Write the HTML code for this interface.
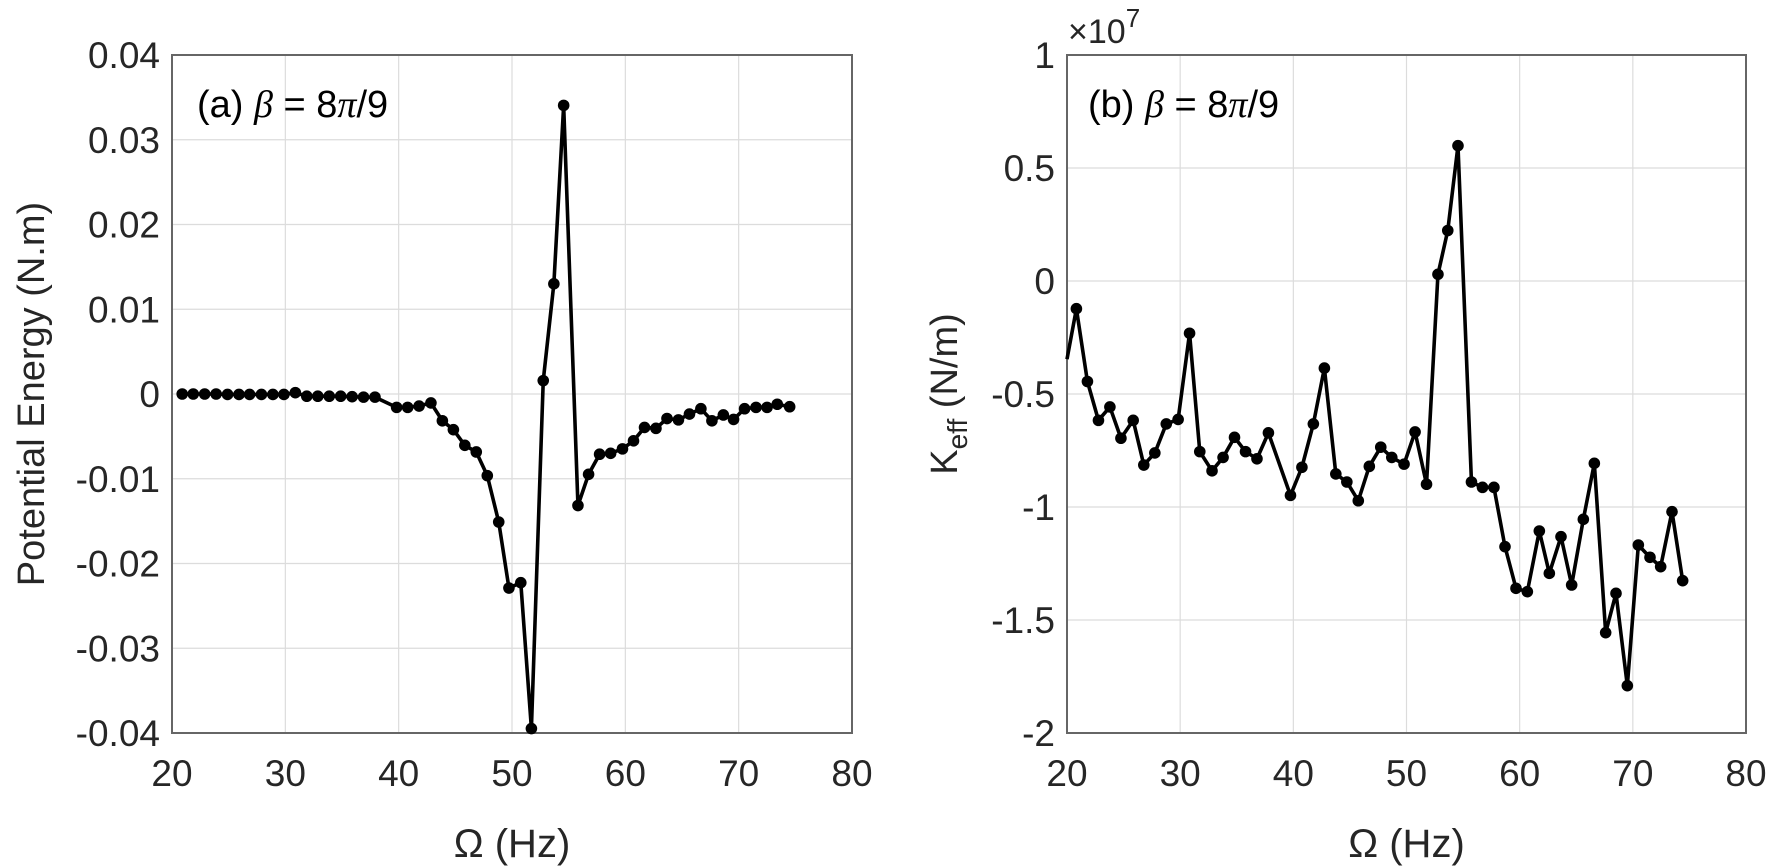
<!DOCTYPE html>
<html><head><meta charset="utf-8"><style>
html,body{margin:0;padding:0;background:#fff;}
svg{display:block;font-family:"Liberation Sans",sans-serif;}
</style></head><body>
<svg id="s" width="1770" height="868" xmlns="http://www.w3.org/2000/svg"></svg>
<script>
const s=document.getElementById('s');let h='';
function axes(L,R,T,B,yt,ymin,ymax,fmt){
 const W=R-L,H=B-T;
 for(let v=20;v<=80;v+=10){const x=L+(v-20)/60*W;
  if(v>20&&v<80)h+=`<line x1="${x}" y1="${T}" x2="${x}" y2="${B}" stroke="#dcdcdc" stroke-width="1.2"/>`;
  h+=`<text x="${x}" y="786" font-size="37" text-anchor="middle" fill="#262626">${v}</text>`;}
 yt.forEach(v=>{const y=B-(v-ymin)/(ymax-ymin)*H;
  if(v>ymin&&v<ymax)h+=`<line x1="${L}" y1="${y}" x2="${R}" y2="${y}" stroke="#dcdcdc" stroke-width="1.2"/>`;
  h+=`<text x="${L-12}" y="${y+13}" font-size="37" text-anchor="end" fill="#262626">${fmt(v)}</text>`;});
 h+=`<rect x="${L}" y="${T}" width="${W}" height="${H}" fill="none" stroke="#666" stroke-width="2"/>`;
 h+=`<text x="${(L+R)/2}" y="857" font-size="40" text-anchor="middle" fill="#262626">Ω (Hz)</text>`;
}
function series(pts,L,R,T,B,ymin,ymax,noFirst){
 const W=R-L,H=B-T;const P=pts.map(p=>[L+(p[0]-20)/60*W,B-(p[1]-ymin)/(ymax-ymin)*H]);
 h+=`<polyline points="${P.map(p=>p.join(',')).join(' ')}" fill="none" stroke="#000" stroke-width="3.6" stroke-linejoin="round"/>`;
 P.forEach((p,i)=>{if(!(noFirst&&i==0))h+=`<circle cx="${p[0]}" cy="${p[1]}" r="5.8" fill="#000"/>`;});
}
const A=[[103,885],[130,885],[158,885],[186,885],[214,886],[242,886],[268,886],[297,886],[325,886],[352,886],[380,882],[408,890],[435,890],[463,890],[491,890],[519,891],[547,892],[575,892],[628,915],[655,915],[683,912],[712,905],[740,945],[767,965],[795,1000],[823,1015],[850,1068],[878,1172],[903,1320],[932,1308],[958,1635],[987,855],[1013,638],[1037,238],[1072,1135],[1098,1065],[1125,1020],[1152,1018],[1181,1008],[1208,990],[1235,960],[1263,962],[1290,940],[1318,943],[1345,930],[1373,918],[1400,945],[1428,932],[1453,942],[1480,918],[1508,915],[1535,915],[1560,908]].map(p=>[20+(p[0]-78)/27.75,(885-p[1])/19000]);
A.push([74.5,-0.0015]);
axes(172,852,55,733,[-0.04,-0.03,-0.02,-0.01,0,0.01,0.02,0.03,0.04],-0.04,0.04,v=>v==0?'0':v.toFixed(2));
series(A,172,852,55,733,-0.04,0.04,false);
h+=`<text x="197" y="117" font-size="38" fill="#000">(a) <tspan font-style="italic" font-family="Liberation Serif,serif">β</tspan> = 8<tspan font-family="Liberation Serif,serif" font-style="italic">π</tspan>/9</text>`;
h+=`<text transform="translate(44,394) rotate(-90)" font-size="38" text-anchor="middle" fill="#262626">Potential Energy (N.m)</text>`;
let Bp=[[335,805],[358,692],[385,855],[412,942],[440,912],[467,982],[497,942],[523,1042],[550,1015],[578,950],[607,940],[635,747],[660,1012],[690,1055],[717,1025],[745,980],[772,1012],[800,1028],[828,970],[882,1110],[910,1047],[938,950],[965,825],[993,1062],[1020,1080],[1048,1122],[1075,1045],[1103,1002],[1130,1025],[1160,1040],[1187,968],[1215,1085],[1243,615],[1267,517],[1292,327],[1325,1080],[1352,1092],[1380,1092]].map(p=>[20+(p[0]-335)/27.7,-(p[1]-630)/506]);
const z6=[[15,440],[48,565],[82,575],[118,393],[148,520],[183,410],[215,555],[250,358],[283,190],[317,698],[348,580],[382,857],[415,435],[450,472],[482,500],[516,335],[548,542]].map(p=>{const rx=1500+p[0]/3,ry=400+p[1]/3;return[20+(rx-1067)/679*60,1-(ry-55)/226];});
Bp=Bp.concat(z6);
axes(1067,1746,55,733,[-2,-1.5,-1,-0.5,0,0.5,1],-2,1,v=>String(v));
series(Bp,1067,1746,55,733,-2,1,true);
h+=`<text x="1088" y="117" font-size="38" fill="#000">(b) <tspan font-style="italic" font-family="Liberation Serif,serif">β</tspan> = 8<tspan font-family="Liberation Serif,serif" font-style="italic">π</tspan>/9</text>`;
h+=`<text x="1068" y="43" font-size="34" fill="#262626">×10<tspan font-size="26" dy="-16">7</tspan></text>`;
h+=`<text transform="translate(957,394) rotate(-90)" font-size="38" text-anchor="middle" fill="#262626">K<tspan font-size="28" dy="10">eff</tspan><tspan dy="-10"> (N/m)</tspan></text>`;
s.innerHTML=h;
</script>
</body></html>
